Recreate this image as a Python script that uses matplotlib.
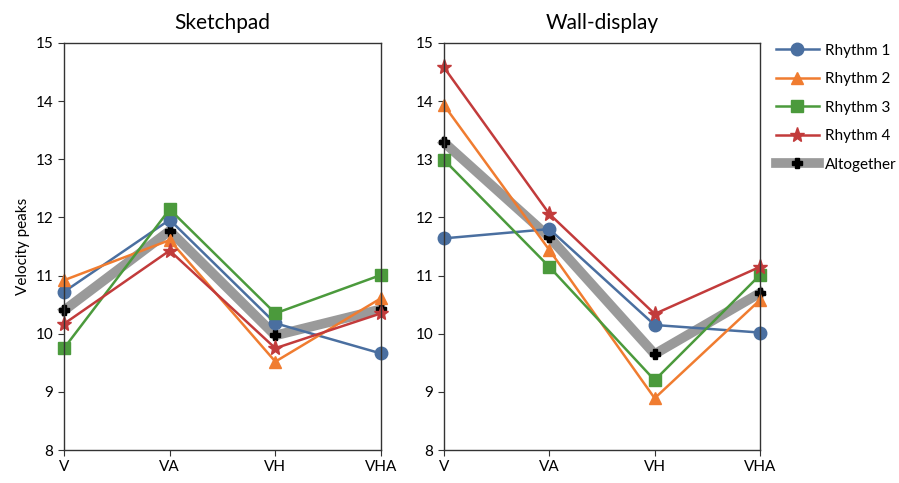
import matplotlib
matplotlib.use("Agg")
import matplotlib.pyplot as plt

plt.rcParams["font.family"] = ["Lato", "DejaVu Sans"]

conditions = ["V", "VA", "VH", "VHA"]
panels = ["Sketchpad", "Wall-display"]
series_names = ["Rhythm 1", "Rhythm 2", "Rhythm 3", "Rhythm 4", "Altogether"]

sketchpad = {
    "Rhythm 1": [10.72, 11.96, 10.18, 9.66],
    "Rhythm 2": [10.92, 11.61, 9.52, 10.61],
    "Rhythm 3": [9.75, 12.14, 10.35, 11.01],
    "Rhythm 4": [10.17, 11.43, 9.75, 10.35],
    "Altogether": [10.40, 11.77, 9.97, 10.42],
}
wall_display = {
    "Rhythm 1": [11.64, 11.80, 10.15, 10.02],
    "Rhythm 2": [13.93, 11.44, 8.89, 10.58],
    "Rhythm 3": [12.99, 11.15, 9.20, 11.01],
    "Rhythm 4": [14.58, 12.06, 10.34, 11.15],
    "Altogether": [13.29, 11.66, 9.65, 10.70],
}
y_ticks = [8, 9, 10, 11, 12, 13, 14, 15]

_STYLE = {
    "Rhythm 1": dict(color="#4a6fa0", marker="o", markersize=9, linewidth=1.8),
    "Rhythm 2": dict(color="#f07c30", marker="^", markersize=9, linewidth=1.8),
    "Rhythm 3": dict(color="#4b9a3c", marker="s", markersize=8, linewidth=1.8),
    "Rhythm 4": dict(color="#c23b3b", marker="*", markersize=11, linewidth=1.8),
    "Altogether": dict(color="#9a9a9a", marker="P", markersize=7,
                       markerfacecolor="black", markeredgecolor="black",
                       linewidth=7, zorder=1),
}

fig = plt.figure(figsize=(8.99, 4.83), dpi=100)
ax_left = fig.add_axes([64 / 899, 1 - 450 / 483, 317 / 899, 407 / 483])
ax_right = fig.add_axes([444 / 899, 1 - 450 / 483, 316 / 899, 407 / 483])

x = list(range(len(conditions)))
for ax, title, data in zip([ax_left, ax_right], panels, [sketchpad, wall_display]):
    for name in series_names:
        style = dict(_STYLE[name])
        z = style.pop("zorder", 2)
        ax.plot(x, data[name], label=name, clip_on=False, zorder=z, **style)
    ax.set_xlim(0, len(conditions) - 1)
    ax.set_ylim(8, 15)
    ax.set_xticks(x)
    ax.set_xticklabels(conditions)
    ax.set_yticks(y_ticks)
    ax.tick_params(direction="out", length=4, labelsize=11, color="#333333")
    for spine in ax.spines.values():
        spine.set_color("#333333")
        spine.set_linewidth(1.0)
    ax.set_title(title, fontsize=15, pad=10)

ax_left.set_ylabel("Velocity peaks", fontsize=11)

handles, labels = ax_left.get_legend_handles_labels()
fig.legend(handles, labels, loc="upper left", bbox_to_anchor=(762 / 899, 1 - 30 / 483),
           frameon=False, fontsize=11, handlelength=2.8, labelspacing=0.95,
           handletextpad=0.4)

fig.savefig("out.png", dpi=100)
